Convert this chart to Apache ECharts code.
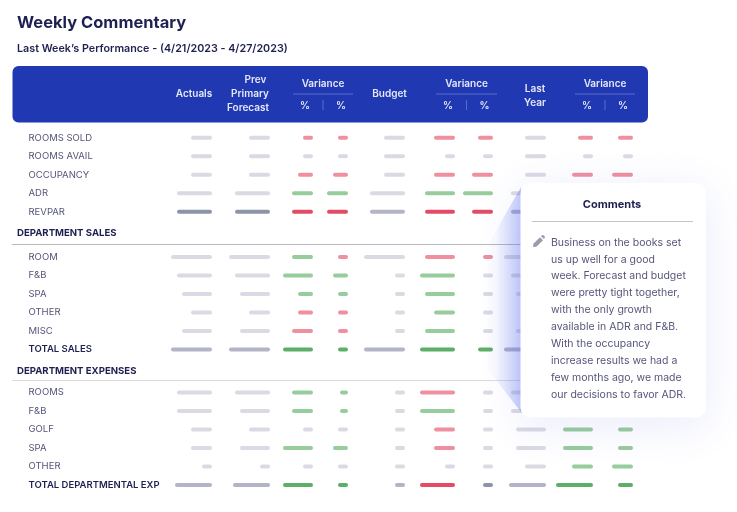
<!DOCTYPE html>
<html><head><meta charset="utf-8">
<script src="https://cdn.jsdelivr.net/npm/echarts@6/dist/echarts.min.js"></script>
<style>html,body{margin:0;padding:0;background:#fff}#c{width:737px;height:512px}</style>
</head><body><div id="c"></div>
<script>
// tones: n light grey, N total grey, S slate, g green, G strong green, r red, R strong red
const summaryLabels = ['ROOMS SOLD','ROOMS AVAIL','OCCUPANCY','ADR','REVPAR'];
const summaryLengths = [
  [21,21,10,10,21,21,15,21,15,15],
  [21,21,10,10,21,10,10,21,10,10],
  [21,21,15,15,21,21,21,21,21,21],
  [35,35,21,21,35,30,30,35,null,null],
  [35,35,21,21,35,30,21,35,null,null]
];
const summaryTones = ['nnrrnrrnrr','nnnnnnnnnn','nnrrnrrnrr','nnggnggngg','SSRRNRRNRR'];

const salesLabels = ['ROOM','F&B','SPA','OTHER','MISC','TOTAL SALES'];
const salesLengths = [
  [41,41,21,10,41,30,10,42,null,null],
  [35,35,30,15,10,35,10,35,null,null],
  [30,30,15,10,10,30,10,30,null,null],
  [21,21,15,10,10,21,10,21,null,null],
  [30,30,21,10,10,30,10,30,null,null],
  [41,41,30,10,41,35,15,42,null,null]
];
const salesTones = ['nngrnrrnnn','nnggngnnnn','nnggngnnnn','nnrrngnnnn','nnrrngnnnn','NNGGNGGNNN'];

const expenseLabels = ['ROOMS','F&B','GOLF','SPA','OTHER','TOTAL DEPARTMENTAL EXP'];
const expenseLengths = [
  [35,35,21,8,10,35,10,35,null,null],
  [35,30,21,8,10,35,10,35,null,null],
  [21,21,10,10,10,21,10,30,30,15],
  [21,30,30,15,10,21,10,30,30,15],
  [10,10,10,10,10,10,10,21,21,21],
  [37,37,30,10,10,35,10,37,37,15]
];
const expenseTones = ['nnggnrnnnn','nnggngnnnn','nnnnnrnngg','nnggnrnngg','nnnnnnnngg','NNGGNRSNGG'];

const commentLines = [
  'Business on the books set','us up well for a good','week. Forecast and budget','were pretty tight together,',
  'with the only growth','available in ADR and F&B.','With the occupancy','increase results we had a',
  'few months ago, we made','our decisions to favor ADR.'
];

// layout
const columnRight = [212,270,313,348,405,455,493,546,593,633];
const toneColor = {n:'#d9dae3',N:'#b3b4c5',S:'#8b95a7',g:'#97cc9c',G:'#5dae68',r:'#ef8f9f',R:'#e24c65'};
const F = 'Inter, sans-serif', INK = '#1f2052', BODY = '#55557a', HEAD = '#e3e7f8';

const sections = [
  {labels:summaryLabels, lengths:summaryLengths, tones:summaryTones, top:128.4},
  {labels:salesLabels, lengths:salesLengths, tones:salesTones, top:247.8},
  {labels:expenseLabels, lengths:expenseLengths, tones:expenseTones, top:383.3}
];
const ROW = 18.5;

function renderBar(params, api){
  const right = api.coord([api.value(0), api.value(1)]);
  const w = api.size([api.value(2), 0])[0];
  const h = 4;
  return {type:'rect', shape:{x:right[0]-w, y:right[1]-h/2, width:w, height:h, r:2},
    style:{fill: toneColor[sections[params.seriesIndex].tones[api.value(1)][api.value(3)]]}};
}

const grid=[], xAxis=[], yAxis=[], series=[];
sections.forEach((s,i)=>{
  grid.push({left:0,right:0,top:s.top,height:ROW*s.labels.length});
  xAxis.push({gridIndex:i,type:'value',min:0,max:737,show:false});
  yAxis.push({gridIndex:i,type:'category',inverse:true,data:s.labels,
    axisLine:{show:false},axisTick:{show:false},splitLine:{show:false},
    axisLabel:{inside:true,margin:28.5,
      formatter:v=>v.indexOf('TOTAL')===0?'{t|'+v+'}':'{r|'+v+'}',
      rich:{t:{fontFamily:F,fontSize:9.5,fontWeight:600,color:INK},
            r:{fontFamily:F,fontSize:9.5,fontWeight:400,color:BODY}}}});
  const data=[];
  s.lengths.forEach((row,r)=>row.forEach((len,c)=>{ if(len!=null) data.push([columnRight[c],r,len,c]); }));
  series.push({type:'custom',xAxisIndex:i,yAxisIndex:i,data,renderItem:renderBar,silent:true,z:3,
    encode:{x:0,y:1},clip:false,animation:false});
});

function txt(text,x,y,o){
  o=o||{};
  return {type:'text',z:o.z||20,style:{text,x,y,fill:o.fill||HEAD,fontFamily:F,fontSize:o.size||10,
    fontWeight:o.weight||600,align:o.align||'center',verticalAlign:'middle'}};
}
function hline(x1,x2,y,color,z){return {type:'line',z:z,shape:{x1,y1:y,x2,y2:y},style:{stroke:color,lineWidth:1}};}
function vline(x,y1,y2,color,z){return {type:'line',z:z,shape:{x1:x,y1,x2:x,y2},style:{stroke:color,lineWidth:1}};}

const g=[
  txt('Weekly Commentary',17,23.5,{align:'left',size:16.5,weight:700,fill:INK}),
  txt('Last Week\u2019s Performance - (4/21/2023 - 4/27/2023)',17,48.5,{align:'left',size:10.75,weight:600,fill:INK}),
  {type:'rect',z:10,shape:{x:12.5,y:66,width:635.5,height:56.5,r:6},style:{fill:'#2039b3'}},
  txt('Actuals',194,93.5),
  txt('Prev',255.5,79.5),txt('Primary',250,93.5),txt('Forecast',248,108),
  txt('Budget',389.5,93.5),
  txt('Last',535,88.5),txt('Year',535,103),
  hline(12,648,244.5,'#b9b9bd',1),
  hline(12,648,380.5,'#dcdcdf',1),
  txt('DEPARTMENT SALES',17,233,{align:'left',size:9.6,weight:700,fill:INK}),
  txt('DEPARTMENT EXPENSES',17,371,{align:'left',size:9.6,weight:700,fill:INK}),
  // wedge behind comment panel
  {type:'polygon',z:8,shape:{points:[[521,187],[486,248],[486,367],[521,412]]},
    style:{fill:{type:'linear',x:0,y:0,x2:1,y2:0,colorStops:[
      {offset:0,color:'rgba(90,110,240,0)'},{offset:0.3,color:'rgba(90,110,240,0.05)'},{offset:1,color:'rgba(90,110,240,0.36)'}]}}},
  {type:'rect',z:9,shape:{x:520.5,y:183,width:185.5,height:234.5,r:10},
    style:{fill:'#fff',shadowBlur:45,shadowColor:'rgba(70,90,220,0.12)',shadowOffsetY:8}},
  txt('Comments',612,205,{size:11,weight:700,fill:INK,z:12}),
  hline(532,693,221.5,'#c4c4c8',12),
  {type:'polygon',z:12,shape:{points:[[533,247],[533.4,243.8],[540,237.2],[543,240.2],[536.4,246.8]]},style:{fill:'#9b9cab'}},
  {type:'polygon',z:12,shape:{points:[[541,236.2],[542.3,235],[543.2,235],[544.8,236.6],[544.8,237.6],[544,238.9]]},style:{fill:'#9b9cab'}}
];
[[323,293,353,305,341],[466.5,436,497,448,484.5],[605,575,635,587,623]].forEach(a=>{
  g.push(txt('Variance',a[0],83.5));
  g.push(hline(a[1],a[2],94,'#5a6ccb',20));
  g.push(txt('%',a[3],106));
  g.push(txt('%',a[4],106));
  g.push(vline(a[0],100,110,'#5a6ccb',20));
});
commentLines.forEach((t,i)=>g.push(txt(t,551,242.5+i*16.9,{align:'left',size:10.5,weight:400,fill:BODY,z:12})));

const chart=echarts.init(document.getElementById('c'),null,{renderer:'canvas'});
chart.setOption({animation:false,backgroundColor:'#fff',grid,xAxis,yAxis,series,graphic:{elements:g}});
</script></body></html>
